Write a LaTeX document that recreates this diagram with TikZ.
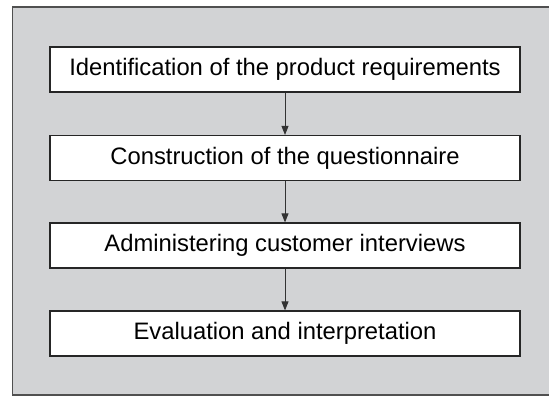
\documentclass[tikz,border=0pt]{standalone}
\usepackage{fontspec}
\setmainfont{Liberation Sans}
\usetikzlibrary{arrows.meta}
\definecolor{bggray}{HTML}{D2D3D5}
\definecolor{edgegray}{HTML}{505050}
\begin{document}
\begin{tikzpicture}[x=1pt,y=-1pt,
  stepbox/.style={draw=black!85,line width=1.2pt,fill=white,minimum width=470pt,minimum height=45pt,inner sep=0pt,font=\fontsize{23.8}{26}\selectfont},
  flow/.style={draw=black!80,line width=0.9pt,-{Triangle[length=9pt,width=7pt]}}]
\useasboundingbox (0,0) rectangle (549,397);
\draw[fill=bggray,draw=edgegray,line width=1.3pt] (12.5,7) rectangle (551,395);
\node[stepbox] (a) at (285,69.5) {Identification of the product requirements};
\node[stepbox] (b) at (285,158) {Construction of the questionnaire};
\node[stepbox] (c) at (285,245.5) {Administering customer interviews};
\node[stepbox] (d) at (285,333.5) {Evaluation and interpretation};
\draw[flow] (a) -- (b);
\draw[flow] (b) -- (c);
\draw[flow] (c) -- (d);
\end{tikzpicture}
\end{document}
